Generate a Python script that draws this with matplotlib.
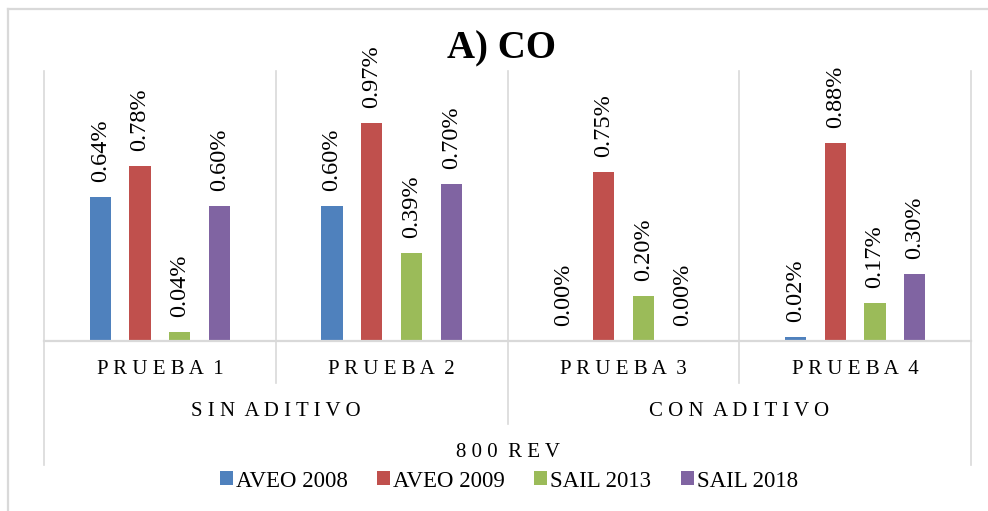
import matplotlib
matplotlib.use("Agg")
import matplotlib.pyplot as plt
import matplotlib.transforms as mtransforms
from matplotlib.patches import Patch
from matplotlib.lines import Line2D
import numpy as np

# ---- data ----
categories = ["PRUEBA 1", "PRUEBA 2", "PRUEBA 3", "PRUEBA 4"]
groups = ["SIN ADITIVO", "CON ADITIVO"]
outer_label = "800 REV"
series_names = ["AVEO 2008", "AVEO 2009", "SAIL 2013", "SAIL 2018"]
aveo_2008 = [0.64, 0.60, 0.00, 0.02]
aveo_2009 = [0.78, 0.97, 0.75, 0.88]
sail_2013 = [0.04, 0.39, 0.20, 0.17]
sail_2018 = [0.60, 0.70, 0.00, 0.30]
title = "A) CO"

colors = ["#4F81BD", "#C0504D", "#9BBB59", "#8064A2"]
series = [aveo_2008, aveo_2009, sail_2013, sail_2018]
grid_col = "#D9D9D9"
font = "Liberation Serif"

def spaced(s):
    # letter-spaced text: single space between letters, double between words
    return "  ".join(" ".join(list(w)) for w in s.split(" "))

W, H = 988, 511
fig = plt.figure(figsize=(W / 100, H / 100), dpi=100)
ax = fig.add_axes([44 / W, 1 - 341 / H, (971 - 44) / W, (341 - 71) / H])

x = np.arange(len(categories))
pitch = 0.1714
width = 0.091
for i, (vals, col) in enumerate(zip(series, colors)):
    offs = (i - 1.5) * pitch
    ax.bar(x + offs, vals, width, color=col, zorder=3)
    for xi, v in zip(x + offs, vals):
        ax.annotate(f"{v:.2f}%", (xi, v), xytext=(0, 15), textcoords="offset pixels",
                    rotation=90, ha="center", va="bottom", fontsize=17.5,
                    family=font, color="#000000")

ax.set_xlim(-0.5, len(categories) - 0.5)
ax.set_ylim(0, 1.2)
ax.set_xticks([])
ax.set_yticks([])
for s in ["top", "right", "left"]:
    ax.spines[s].set_visible(False)
ax.spines["bottom"].set_color(grid_col)
ax.spines["bottom"].set_linewidth(1.6)
ax.spines["bottom"].set_zorder(4)

trans = mtransforms.blended_transform_factory(ax.transData, ax.transAxes)
axh = 341 - 71
bottoms = {-0.5: 465, 0.5: 383, 1.5: 424, 2.5: 383, 3.5: 465}
for bx, by in bottoms.items():
    ax.plot([bx, bx], [1.0, -(by - 341) / axh], transform=trans, color=grid_col,
            lw=1.2, clip_on=False, zorder=1)

# category labels
for xi, c in zip(x, categories):
    ax.text(xi, -(369 - 341) / axh, spaced(c), transform=trans, ha="center", va="center",
            fontsize=15, family=font, color="#000000")
for gx, g in zip([0.5, 2.5], groups):
    ax.text(gx, -(411 - 341) / axh, spaced(g), transform=trans, ha="center", va="center",
            fontsize=15, family=font, color="#000000")
ax.text(1.5, -(452 - 341) / axh, spaced(outer_label), transform=trans, ha="center",
        va="center", fontsize=15, family=font, color="#000000")

fig.text(501 / W, 1 - 49 / H, title, ha="center", va="center", fontsize=28,
         fontweight="bold", family=font)

handles = [Patch(facecolor=c, edgecolor="none") for c in colors]
fig.legend(handles, series_names, loc="center", bbox_to_anchor=(509 / W, 1 - 481 / H),
           ncol=4, frameon=False, prop={"family": font, "size": 16.5},
           handlelength=0.57, handleheight=0.57, handletextpad=0.13, columnspacing=1.27,
           borderpad=0, borderaxespad=0)

# outer chart border (left and top edges visible)
fig.add_artist(Line2D([8 / W, 8 / W], [0, 1 - 9 / H], transform=fig.transFigure,
                      color=grid_col, lw=1.6))
fig.add_artist(Line2D([8 / W, 1], [1 - 9 / H, 1 - 9 / H], transform=fig.transFigure,
                      color=grid_col, lw=1.6))

fig.savefig("out.png", dpi=100, facecolor="white")
